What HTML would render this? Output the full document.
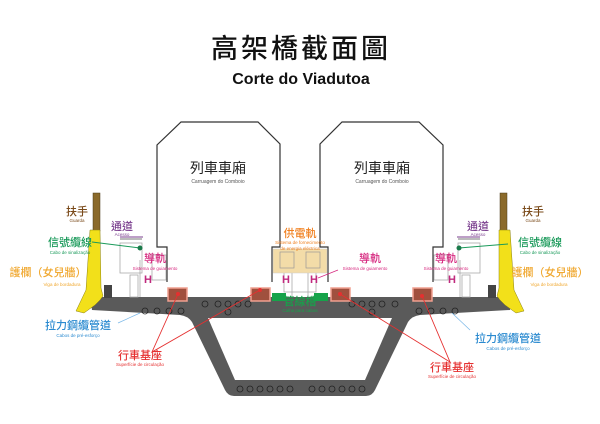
<!DOCTYPE html>
<html><head><meta charset="utf-8"><style>
html,body{margin:0;padding:0;background:#fff;width:600px;height:424px;overflow:hidden}
text{font-family:"Liberation Sans","Noto Sans CJK TC",sans-serif}
.cj{font-family:"Noto Sans CJK TC","WenQuanYi Zen Hei",sans-serif}
</style></head><body>
<svg width="600" height="424" viewBox="0 0 600 424" xmlns="http://www.w3.org/2000/svg">
<text x="301" y="58" text-anchor="middle" font-size="27" class="cj" letter-spacing="3" fill="#111" font-weight="500">高架橋截面圖</text>
<text x="301" y="84" text-anchor="middle" font-size="16" fill="#111" font-weight="bold">Corte do Viadutoa</text>

<!-- deck -->
<path d="M90,297 L510,297 L512,298 L510,310 L420,315 Q412,316 408,322 L375,390 Q372,396 366,396 L234,396 Q228,396 225,390 L192,322 Q188,316 180,315 L92,310 Z" fill="#5a5a5a"/>
<path d="M208,318 L392,318 L365,380 L235,380 Z" fill="#fff"/>
<g fill="none" stroke="#222" stroke-width="0.8">
<circle cx="145" cy="311" r="3"/><circle cx="157" cy="311" r="3"/><circle cx="169" cy="311" r="3"/><circle cx="181" cy="311" r="3"/>
<circle cx="205" cy="304" r="3"/><circle cx="218" cy="304" r="3"/><circle cx="228" cy="304" r="3"/><circle cx="238" cy="304" r="3"/><circle cx="248" cy="304" r="3"/><circle cx="228" cy="312" r="3"/>
<circle cx="352" cy="304" r="3"/><circle cx="362" cy="304" r="3"/><circle cx="372" cy="304" r="3"/><circle cx="382" cy="304" r="3"/><circle cx="395" cy="304" r="3"/><circle cx="372" cy="312" r="3"/>
<circle cx="419" cy="311" r="3"/><circle cx="431" cy="311" r="3"/><circle cx="443" cy="311" r="3"/><circle cx="455" cy="311" r="3"/>
<circle cx="240" cy="389" r="3"/><circle cx="250" cy="389" r="3"/><circle cx="260" cy="389" r="3"/><circle cx="270" cy="389" r="3"/><circle cx="280" cy="389" r="3"/><circle cx="290" cy="389" r="3"/>
<circle cx="312" cy="389" r="3"/><circle cx="322" cy="389" r="3"/><circle cx="332" cy="389" r="3"/><circle cx="342" cy="389" r="3"/><circle cx="352" cy="389" r="3"/><circle cx="362" cy="389" r="3"/>
</g>

<!-- parapets -->
<rect x="93" y="193" width="7" height="38" fill="#8b6a2b" stroke="#4a3a1a" stroke-width="0.5"/>
<rect x="500" y="193" width="7" height="38" fill="#8b6a2b" stroke="#4a3a1a" stroke-width="0.5"/>
<path d="M90,230 L100,230 L101,288 L103,296 L100,300 L95,305 L84,313 L76,311 L86,290 L88,260 Z" fill="#f2e01a" stroke="#8a8010" stroke-width="0.5"/>
<path d="M499,230 L510,230 L512,260 L514,290 L524,311 L516,313 L505,305 L500,300 L497,296 L499,288 Z" fill="#f2e01a" stroke="#8a8010" stroke-width="0.5"/>
<rect x="104" y="285" width="8" height="13" fill="#444"/>
<rect x="488" y="285" width="8" height="13" fill="#444"/>

<!-- cars -->
<path d="M167,282 L167,247 L157,247 L157,145 L181,122 L258,122 L280,144 L280,247 L272,247 L272,282" fill="#fff" stroke="#333" stroke-width="1.2"/>
<path d="M328,282 L328,247 L320,247 L320,144 L342,122 L419,122 L443,145 L443,247 L433,247 L433,282" fill="#fff" stroke="#333" stroke-width="1.2"/>
<text x="218" y="173" text-anchor="middle" font-size="14" class="cj" fill="#222">列車車廂</text>
<text x="218" y="183" text-anchor="middle" font-size="5" fill="#555">Carruagem do Comboio</text>
<text x="382" y="173" text-anchor="middle" font-size="14" class="cj" fill="#222">列車車廂</text>
<text x="382" y="183" text-anchor="middle" font-size="5" fill="#555">Carruagem do Comboio</text>

<!-- equipment gray -->
<g fill="none" stroke="#aaa" stroke-width="0.8">
<rect x="120" y="243" width="22" height="30"/><rect x="130" y="275" width="8" height="22"/><line x1="140" y1="260" x2="140" y2="297"/>
<rect x="458" y="243" width="22" height="30"/><rect x="462" y="275" width="8" height="22"/><line x1="460" y1="260" x2="460" y2="297"/>
<rect x="152" y="255" width="14" height="25"/><rect x="434" y="255" width="14" height="25"/>
<rect x="284" y="270" width="32" height="22"/><line x1="292" y1="270" x2="292" y2="297"/><line x1="308" y1="270" x2="308" y2="297"/>
</g>
<g stroke="#777" stroke-width="1">
<line x1="120" y1="239" x2="142" y2="239"/><line x1="458" y1="239" x2="480" y2="239"/>
</g>
<g stroke="#7b3f8f" stroke-width="1"><line x1="120" y1="237" x2="143" y2="237"/><line x1="457" y1="237" x2="480" y2="237"/></g>

<!-- power rail -->
<rect x="273" y="249" width="54" height="24" fill="#f3dca8" stroke="#ccc" stroke-width="0.5"/>
<g fill="none" stroke="#999" stroke-width="0.7"><rect x="280" y="252" width="14" height="16"/><rect x="306" y="252" width="14" height="16"/></g>

<!-- H guides -->
<g font-size="11" font-weight="bold" fill="#c02a7e" text-anchor="middle">
<text x="148" y="283">H</text><text x="286" y="283">H</text><text x="314" y="283">H</text><text x="452" y="283">H</text>
</g>

<!-- pads -->
<g fill="#a0503e" stroke="#f0a090" stroke-width="1.5">
<rect x="168" y="288" width="19" height="13"/><rect x="251" y="288" width="19" height="13"/>
<rect x="331" y="288" width="19" height="13"/><rect x="413" y="288" width="19" height="13"/>
</g>
<rect x="272" y="293" width="14" height="8" fill="#16a34a"/>
<rect x="314" y="293" width="14" height="8" fill="#16a34a"/>

<!-- leader lines -->
<g stroke="#e53030" stroke-width="0.9" fill="none">
<path d="M178,294 L152,352 L260,290"/><path d="M340,294 L450,362 L422,296"/>
</g>
<g fill="#e53030"><circle cx="178" cy="294" r="2"/><circle cx="260" cy="290" r="2"/><circle cx="340" cy="294" r="2"/><circle cx="422" cy="296" r="2"/></g>
<line x1="92" y1="242" x2="140" y2="248" stroke="#1a9a5a" stroke-width="0.9"/><circle cx="140" cy="248" r="2.5" fill="#1a7a4a"/>
<line x1="459" y1="248" x2="508" y2="244" stroke="#1a9a5a" stroke-width="0.9"/><circle cx="459" cy="248" r="2.5" fill="#1a7a4a"/>
<line x1="140" y1="313" x2="118" y2="323" stroke="#7ab8e8" stroke-width="0.7"/>
<line x1="452" y1="313" x2="470" y2="330" stroke="#7ab8e8" stroke-width="0.7"/>
<line x1="338" y1="270" x2="318" y2="278" stroke="#d6287f" stroke-width="0.7"/>

<!-- labels -->
<g class="cj" text-anchor="middle" font-weight="500">
<text x="77" y="215" font-size="11" fill="#7a4a1a">扶手</text>
<text x="122" y="230" font-size="11" fill="#7b3f8f">通道</text>
<text x="70" y="246" font-size="11" fill="#1a9a5a">信號纜線</text>
<text x="48" y="276" font-size="11" fill="#f0a830">護欄（女兒牆）</text>
<text x="155" y="262" font-size="11" fill="#d6287f">導軌</text>
<text x="300" y="237" font-size="11" fill="#f08020">供電軌</text>
<text x="370" y="262" font-size="11" fill="#d6287f">導軌</text>
<text x="446" y="262" font-size="11" fill="#d6287f">導軌</text>
<text x="300" y="305" font-size="11" fill="#16a34a">管線槽</text>
<text x="478" y="230" font-size="11" fill="#7b3f8f">通道</text>
<text x="533" y="215" font-size="11" fill="#7a4a1a">扶手</text>
<text x="540" y="246" font-size="11" fill="#1a9a5a">信號纜線</text>
<text x="550" y="276" font-size="11" fill="#f0a830">護欄（女兒牆）</text>
<text x="78" y="329" font-size="11" fill="#2a8ad0">拉力鋼纜管道</text>
<text x="508" y="342" font-size="11" fill="#2a8ad0">拉力鋼纜管道</text>
<text x="140" y="359" font-size="11" fill="#e53030">行車基座</text>
<text x="452" y="371" font-size="11" fill="#e53030">行車基座</text>
</g>
<g text-anchor="middle" font-size="4.5">
<text x="77" y="222" fill="#7a4a1a">Guarda</text>
<text x="122" y="236" fill="#7b3f8f">Acesso</text>
<text x="70" y="254" fill="#1a9a5a">Cabo de sinalização</text>
<text x="62" y="286" fill="#f0a830">Viga de bordadura</text>
<text x="155" y="270" fill="#d6287f">Sistema de guiamento</text>
<text x="300" y="244" fill="#f08020">Sistema de fornecimento</text>
<text x="300" y="250" fill="#f08020">de energia eléctrica</text>
<text x="365" y="270" fill="#d6287f">Sistema de guiamento</text>
<text x="446" y="270" fill="#d6287f">Sistema de guiamento</text>
<text x="300" y="312" fill="#16a34a">Calha para cabos</text>
<text x="478" y="236" fill="#7b3f8f">Acesso</text>
<text x="533" y="222" fill="#7a4a1a">Guarda</text>
<text x="540" y="254" fill="#1a9a5a">Cabo de sinalização</text>
<text x="549" y="286" fill="#f0a830">Viga de bordadura</text>
<text x="78" y="337" fill="#2a8ad0">Cabos de pré-esforço</text>
<text x="508" y="350" fill="#2a8ad0">Cabos de pré-esforço</text>
<text x="140" y="366" fill="#e53030">Superfície de circulação</text>
<text x="452" y="378" fill="#e53030">Superfície de circulação</text>
</g>
</svg>
</body></html>
